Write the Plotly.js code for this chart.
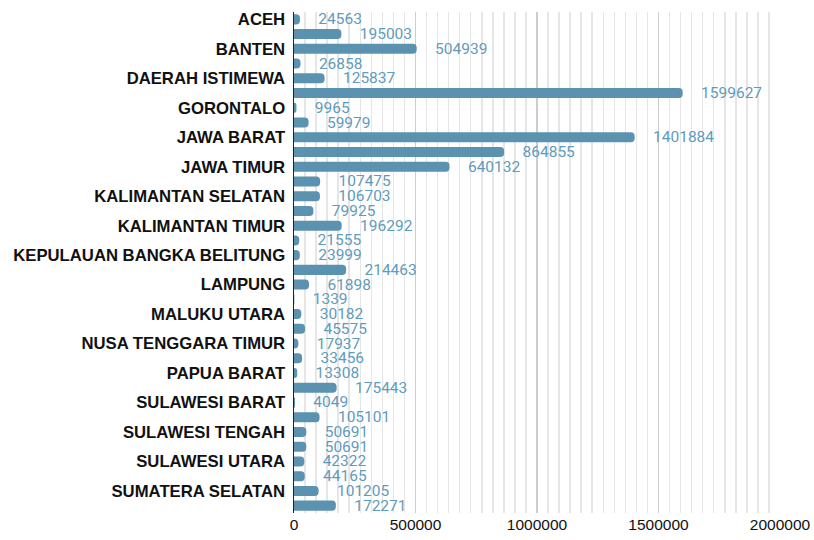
<!DOCTYPE html>
<html>
<head>
<meta charset="utf-8">
<script src="https://cdn.plot.ly/plotly-3.0.1.min.js"></script>
<style>html,body{margin:0;padding:0;background:#fff;}#chart{width:814px;height:540px;}</style>
</head>
<body>
<div id="chart"></div>
<script>
const provinces = [
  "ACEH","BALI","BANTEN","BENGKULU","DAERAH ISTIMEWA","DKI JAKARTA","GORONTALO","JAMBI",
  "JAWA BARAT","JAWA TENGAH","JAWA TIMUR","KALIMANTAN BARAT","KALIMANTAN SELATAN","KALIMANTAN TENGAH",
  "KALIMANTAN TIMUR","KALIMANTAN UTARA","KEPULAUAN BANGKA BELITUNG","KEPULAUAN RIAU","LAMPUNG","MALUKU",
  "MALUKU UTARA","NUSA TENGGARA BARAT","NUSA TENGGARA TIMUR","PAPUA","PAPUA BARAT","RIAU",
  "SULAWESI BARAT","SULAWESI SELATAN","SULAWESI TENGAH","SULAWESI TENGGARA","SULAWESI UTARA",
  "SUMATERA BARAT","SUMATERA SELATAN","SUMATERA UTARA"
];
const values = [
  24563,195003,504939,26858,125837,1599627,9965,59979,
  1401884,864855,640132,107475,106703,79925,
  196292,21555,23999,214463,61898,1339,
  30182,45575,17937,33456,13308,175443,
  4049,105101,50691,50691,42322,
  44165,101205,172271
];
const tickLabels = [
  "ACEH","BANTEN","DAERAH ISTIMEWA","GORONTALO","JAWA BARAT","JAWA TIMUR","KALIMANTAN SELATAN",
  "KALIMANTAN TIMUR","KEPULAUAN BANGKA BELITUNG","LAMPUNG","MALUKU UTARA","NUSA TENGGARA TIMUR",
  "PAPUA BARAT","SULAWESI BARAT","SULAWESI TENGAH","SULAWESI UTARA","SUMATERA SELATAN"
];
const xTicks = [0, 500000, 1000000, 1500000, 2000000];

const trace = {
  type: 'bar',
  orientation: 'h',
  y: provinces,
  x: values,
  marker: {color: '#5b92b0', cornerradius: 4},
  texttemplate: '\u00a0\u00a0\u00a0\u00a0%{x:.0f}',
  textposition: 'outside',
  textangle: 0,
  constraintext: 'none',
  cliponaxis: false,
  outsidetextfont: {family: 'Roboto', size: 15.5, color: '#5f9bbb'},
  hoverinfo: 'none'
};

const layout = {
  width: 814, height: 540,
  margin: {l: 294, r: 34, t: 12, b: 27, pad: 0},
  paper_bgcolor: '#ffffff', plot_bgcolor: '#ffffff',
  showlegend: false,
  bargap: 0.32,
  xaxis: {
    range: [0, 2000000],
    tickmode: 'array', tickvals: xTicks, ticktext: xTicks.map(String),
    showgrid: true, gridcolor: '#cdcdcd', gridwidth: 1.5,
    minor: {dtick: 500000/11, tick0: 0, showgrid: true, gridcolor: '#e6e6e6', gridwidth: 1.5},
    zeroline: false, showline: false, ticks: '',
    tickfont: {family: 'Liberation Sans, Arial', size: 15.5, color: '#111'},
    fixedrange: true
  },
  yaxis: {
    type: 'category',
    autorange: 'reversed',
    tickmode: 'array', tickvals: tickLabels, ticktext: tickLabels,
    showgrid: false, zeroline: false,
    showline: true, linecolor: '#222', linewidth: 1.5,
    ticks: '', ticklabelstandoff: 4,
    tickfont: {family: 'Liberation Sans, Arial', size: 16.7, color: '#111', weight: 'bold'},
    fixedrange: true
  }
};

Plotly.newPlot('chart', [trace], layout, {displayModeBar: false, staticPlot: true});
</script>
</body>
</html>
